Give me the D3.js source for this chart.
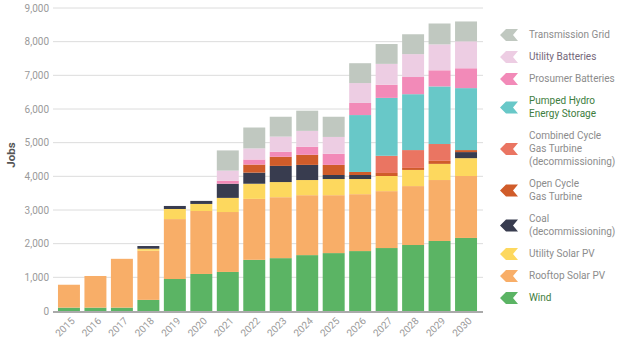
<!DOCTYPE html>
<html>
<head>
<meta charset="utf-8">
<script src="https://cdn.jsdelivr.net/npm/d3@7/dist/d3.min.js"></script>
<style>
	body { margin: 0; background: #fff; }
	svg { display: block; font-family: Roboto, "Open Sans", sans-serif; }
</style>
</head>
<body>
<div id="chart"></div>
<script>
// years along the x axis
var years = ['2015', '2016', '2017', '2018', '2019', '2020', '2021', '2022',
	'2023', '2024', '2025', '2026', '2027', '2028', '2029', '2030'];

// jobs per series, bottom of the stack first
var wind      = [100, 100, 100, 330, 950, 1100, 1160, 1520, 1570, 1660, 1720, 1780, 1870, 1960, 2080, 2170];
var rooftop   = [680, 940, 1450, 1460, 1780, 1870, 1780, 1810, 1810, 1780, 1720, 1690, 1690, 1750, 1810, 1840];
var utilSolar = [0, 0, 0, 60, 300, 210, 420, 450, 450, 450, 480, 450, 450, 480, 480, 530];
var coal      = [0, 0, 0, 80, 90, 90, 420, 330, 480, 450, 120, 120, 0, 0, 0, 180];
var ocgt      = [0, 0, 0, 0, 0, 0, 0, 240, 270, 300, 300, 90, 90, 60, 90, 60];
var ccgt      = [0, 0, 0, 0, 0, 0, 0, 0, 0, 0, 0, 0, 510, 530, 500, 0];
var phes      = [0, 0, 0, 0, 0, 0, 0, 0, 0, 0, 0, 1690, 1720, 1660, 1710, 1840];
var prosumer  = [0, 0, 0, 0, 0, 0, 90, 150, 150, 240, 330, 360, 390, 510, 480, 590];
var utilBatt  = [0, 0, 0, 0, 0, 0, 300, 330, 450, 470, 500, 590, 620, 680, 770, 800];
var grid      = [0, 0, 0, 0, 0, 0, 600, 620, 590, 600, 600, 590, 590, 590, 620, 590];

var yTicks = [0, 1000, 2000, 3000, 4000, 5000, 6000, 7000, 8000, 9000];

var series = [
	{ key: 'wind', values: wind, color: '#5bb464', label: ['Wind'], text: '#3d7d3d' },
	{ key: 'rooftop', values: rooftop, color: '#f8ae68', label: ['Rooftop Solar PV'] },
	{ key: 'utilSolar', values: utilSolar, color: '#fdd85e', label: ['Utility Solar PV'] },
	{ key: 'coal', values: coal, color: '#383c4f', label: ['Coal', '(decommissioning)'] },
	{ key: 'ocgt', values: ocgt, color: '#d05c2a', label: ['Open Cycle', 'Gas Turbine'] },
	{ key: 'ccgt', values: ccgt, color: '#ea7562', label: ['Combined Cycle', 'Gas Turbine', '(decommissioning)'] },
	{ key: 'phes', values: phes, color: '#68c8c8', label: ['Pumped Hydro', 'Energy Storage'], text: '#3d7d3d' },
	{ key: 'prosumer', values: prosumer, color: '#f28ab8', label: ['Prosumer Batteries'] },
	{ key: 'utilBatt', values: utilBatt, color: '#edcde3', label: ['Utility Batteries'], text: '#74687a' },
	{ key: 'grid', values: grid, color: '#c0c8c0', label: ['Transmission Grid'] }
];

var width = 624, height = 348;

var table = years.map(function(y, i) {
	var row = { year: y };
	series.forEach(function(s) { row[s.key] = s.values[i]; });
	return row;
});

var stacked = d3.stack().keys(series.map(function(s) { return s.key; }))(table);

var x = d3.scaleBand()
	.domain(years)
	.range([54, 481])
	.paddingInner(0.17)
	.paddingOuter(0.15);

var y = d3.scaleLinear()
	.domain([0, 9000])
	.range([311, 8]);

var svg = d3.select('#chart')
	.append('svg')
	.attr('width', width)
	.attr('height', height);

// gridlines
svg.append('g')
	.selectAll('line')
	.data(yTicks.slice(1))
	.enter()
	.append('line')
	.attr('x1', 53)
	.attr('x2', 483)
	.attr('y1', function(d) { return y(d); })
	.attr('y2', function(d) { return y(d); })
	.attr('stroke', '#dcdcdc')
	.attr('stroke-width', 1);

// y tick labels
svg.append('g')
	.selectAll('text')
	.data(yTicks)
	.enter()
	.append('text')
	.attr('x', 49)
	.attr('y', function(d) { return y(d); })
	.attr('dy', '0.35em')
	.attr('text-anchor', 'end')
	.attr('fill', '#9a9a9a')
	.style('font-size', '10px')
	.text(d3.format(','));

svg.append('text')
	.attr('transform', 'translate(15,155) rotate(-90)')
	.attr('text-anchor', 'middle')
	.attr('fill', '#555')
	.style('font-size', '11.5px')
	.style('font-weight', 'bold')
	.text('Jobs');

// stacked bars
svg.append('g')
	.selectAll('g')
	.data(stacked)
	.enter()
	.append('g')
	.attr('fill', function(d, i) { return series[i].color; })
	.selectAll('rect')
	.data(function(d) { return d; })
	.enter()
	.append('rect')
	.attr('x', function(d) { return x(d.data.year); })
	.attr('width', x.bandwidth())
	.attr('y', function(d) { return y(d[1]); })
	.attr('height', function(d) { return y(d[0]) - y(d[1]); });

// baseline
svg.append('line')
	.attr('x1', 53)
	.attr('x2', 483)
	.attr('y1', y(0) + 1)
	.attr('y2', y(0) + 1)
	.attr('stroke', '#aaa')
	.attr('stroke-width', 2);

// x labels
svg.append('g')
	.selectAll('text')
	.data(years)
	.enter()
	.append('text')
	.attr('transform', function(d) {
		return 'translate(' + (x(d) + x.bandwidth() / 2 + 4) + ',319) rotate(-45)';
	})
	.attr('text-anchor', 'end')
	.attr('dy', '0.35em')
	.attr('fill', '#9a9a9a')
	.style('font-size', '10px')
	.text(function(d) { return d; });

// legend, top item is the top of the stack
var lineH = 13, gap = 9;
var legendItems = series.slice().reverse();
var legendTop = 28.5;
var legend = svg.append('g');
legendItems.forEach(function(s) {
	var h = s.label.length * lineH;
	var cy = legendTop + h / 2;
	var g = legend.append('g').attr('transform', 'translate(0,' + cy + ')');
	g.append('path')
		.attr('d', 'M500,0 L506,-6 L518,-6 L513,0 L518,6 L506,6 Z')
		.attr('fill', s.color);
	var t = g.append('text')
		.attr('x', 529)
		.attr('y', -h / 2 - 1)
		.attr('fill', s.text || '#8c8c8c')
		.style('font-size', '10px');
	s.label.forEach(function(line, i) {
		t.append('tspan')
			.attr('x', 529)
			.attr('dy', i === 0 ? '1em' : lineH)
			.text(line);
	});
	legendTop += h + gap;
});
</script>
</body>
</html>
